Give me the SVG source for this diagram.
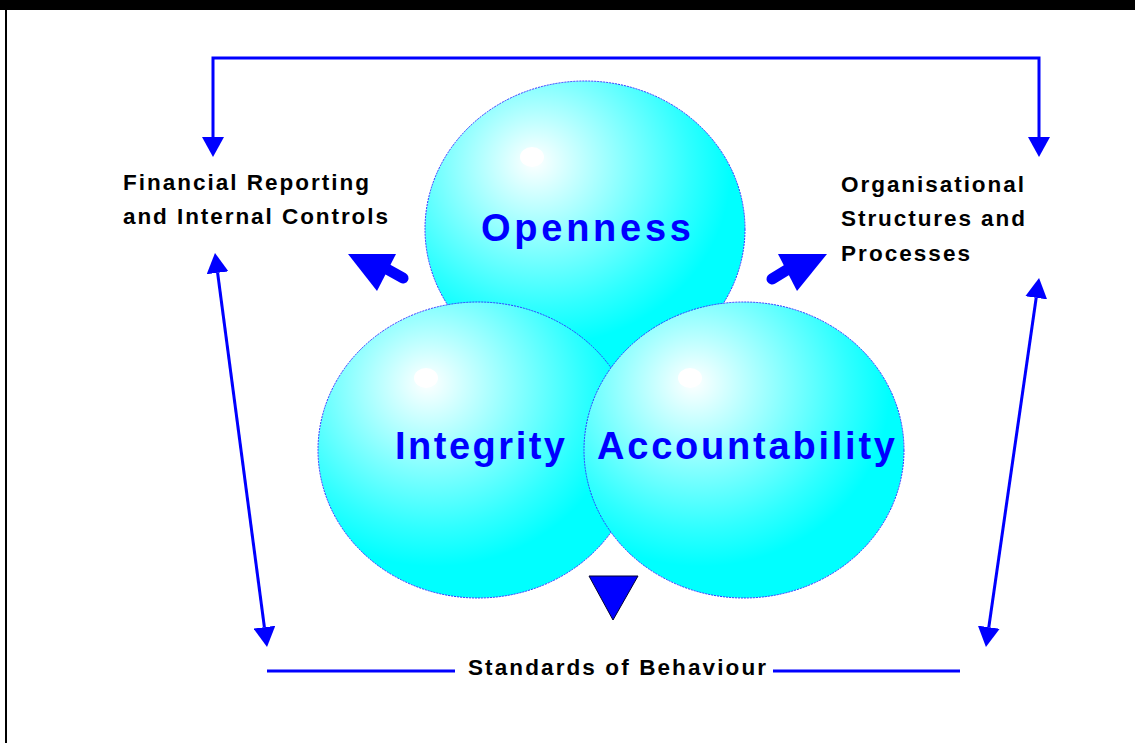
<svg xmlns="http://www.w3.org/2000/svg" width="1135" height="743" viewBox="0 0 1135 743">
<style>
.lbl{font-family:"Liberation Sans",Arial,sans-serif;font-weight:bold;font-size:22.5px;fill:#000}
.big{font-family:"Liberation Sans",Arial,sans-serif;font-weight:bold;font-size:38px;fill:#0000ff}
.con{fill:none;stroke:#0000ff;stroke-width:3}
.ball{fill:url(#ballGrad);stroke:#3333ff;stroke-width:1;stroke-dasharray:2 1}
.hi{fill:#ffffff}
.bigarrow{fill:#0000ff}
.stem{stroke:#0000ff;stroke-width:11;stroke-linecap:round}
</style>
<defs>
<radialGradient id="ballGrad" cx="0.37" cy="0.31" r="0.72" fx="0.34" fy="0.27">
<stop offset="0" stop-color="#ffffff"/>
<stop offset="0.1" stop-color="#e0ffff"/>
<stop offset="0.25" stop-color="#b0ffff"/>
<stop offset="0.45" stop-color="#70ffff"/>
<stop offset="0.65" stop-color="#30ffff"/>
<stop offset="0.82" stop-color="#00ffff"/>
<stop offset="1" stop-color="#00ffff"/>
</radialGradient>
<marker id="ah" viewBox="0 0 20 22" refX="0" refY="11" markerWidth="20" markerHeight="22" markerUnits="userSpaceOnUse" orient="auto-start-reverse">
<path d="M0,0 L20,11 L0,22 z" fill="#0000ff"/>
</marker>
</defs>
<rect x="0" y="0" width="1135" height="743" fill="#ffffff"/>
<g id="frame">
<rect x="0" y="0" width="1135" height="10" fill="#000"/>
<rect x="5" y="0" width="2" height="743" fill="#000"/>
</g>
<g id="openness">
<ellipse class="ball" cx="585" cy="229" rx="160" ry="148"/>
<ellipse class="hi" cx="532" cy="157" rx="12" ry="10"/>
<text class="big" x="481" y="241" textLength="210" lengthAdjust="spacing">Openness</text>
</g>
<g id="integrity">
<ellipse class="ball" cx="478" cy="450" rx="160" ry="148"/>
<ellipse class="hi" cx="426" cy="378" rx="12" ry="10"/>
<text class="big" x="395" y="459" textLength="170" lengthAdjust="spacing">Integrity</text>
</g>
<g id="accountability">
<ellipse class="ball" cx="744" cy="450" rx="160" ry="148"/>
<ellipse class="hi" cx="690" cy="378" rx="12" ry="10"/>
<text class="big" x="597" y="459" textLength="298" lengthAdjust="spacing">Accountability</text>
</g>
<g id="financial">
<text class="lbl" x="123" y="190" textLength="246" lengthAdjust="spacing">Financial Reporting</text>
<text class="lbl" x="123" y="224" textLength="265" lengthAdjust="spacing">and Internal Controls</text>
</g>
<g id="organisational">
<text class="lbl" x="841" y="192" textLength="183" lengthAdjust="spacing">Organisational</text>
<text class="lbl" x="841" y="226" textLength="184" lengthAdjust="spacing">Structures and</text>
<text class="lbl" x="841" y="261" textLength="129" lengthAdjust="spacing">Processes</text>
</g>
<g id="standards">
<text class="lbl" x="468" y="675" textLength="298" lengthAdjust="spacing">Standards of Behaviour</text>
</g>
<g id="connectors">
<path class="con" d="M213,137 L213,58 L1039,58 L1039,137" marker-start="url(#ah)" marker-end="url(#ah)"/>
<path class="con" d="M217.6,272.8 L264.4,627.2" marker-start="url(#ah)" marker-end="url(#ah)"/>
<path class="con" d="M1036.2,297.8 L988.8,627.2" marker-start="url(#ah)" marker-end="url(#ah)"/>
<path class="con" d="M267,671 L455,671"/>
<path class="con" d="M773,671 L960,671"/>
<line class="stem" x1="385" y1="268" x2="403" y2="278"/>
<polygon class="bigarrow" points="348,254 396,254 377,291"/>
<line class="stem" x1="790" y1="268" x2="772" y2="279"/>
<polygon class="bigarrow" points="778,254 827,254 797,291"/>
<polygon class="bigarrow" points="589,576 638,576 613,620" stroke="#000033" stroke-width="1"/>
</g>
</svg>
